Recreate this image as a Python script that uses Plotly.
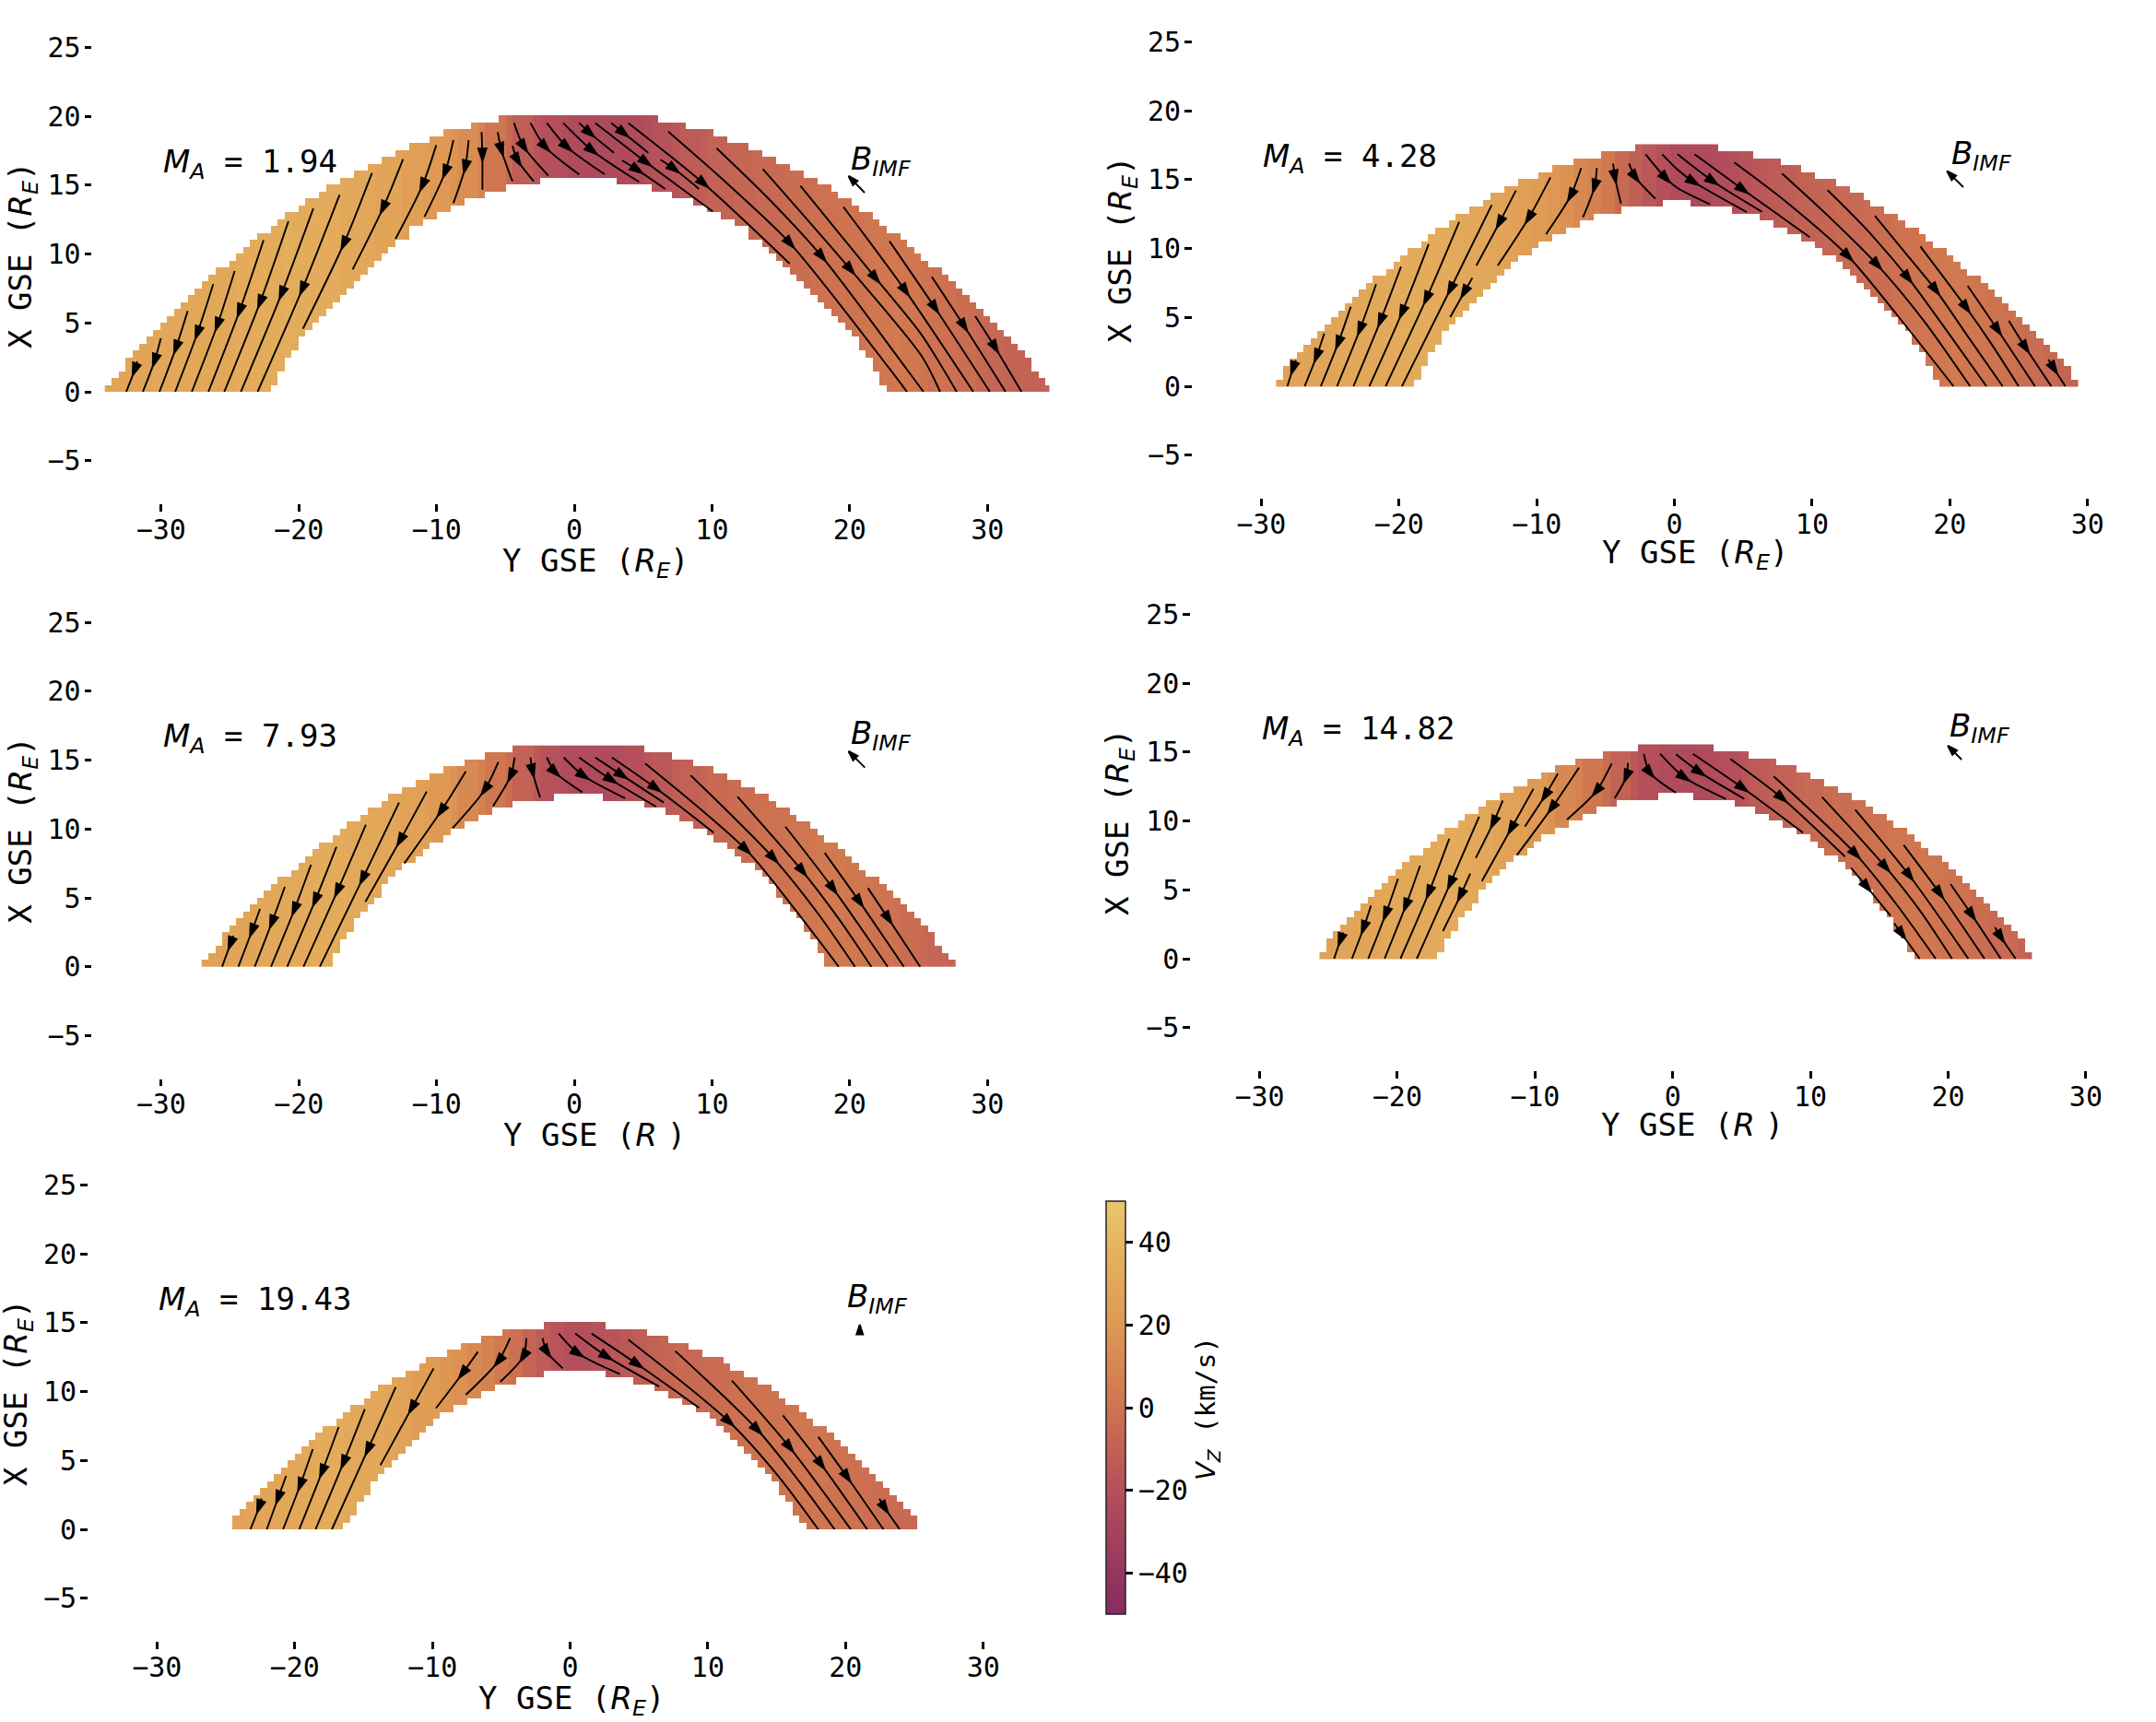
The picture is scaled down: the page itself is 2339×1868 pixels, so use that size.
import numpy as np
import plotly.graph_objects as go

W, H = 2339, 1868
S = 14.94  # pixels per R_E on the tick scale, same on both axes
MONO = "DejaVu Sans Mono"

MACH = ["1.94", "4.28", "7.93", "14.82", "19.43"]

# half width of the sheath per 0.5 R_E row, from X=0 upwards
OUTER_1 = [34.25,33.75,33.25,32.75,32.75,32.25,31.75,31.25,30.75,30.25,29.75,29.25,28.75,28.25,27.75,27.25,26.75,26.25,25.25,24.75,
           24.25,23.75,23.25,22.25,21.75,21.25,20.25,19.75,18.75,18.25,17.25,16.25,15.25,14.25,13.25,12.25,10.75,9.75,7.75,5.75]
INNER_1 = [22.25,21.75,21.75,21.25,21.25,20.75,20.25,20.25,19.75,19.25,18.75,18.25,17.75,17.25,16.75,16.25,15.75,15.25,14.75,14.25,
           13.75,13.25,12.25,12.25,11.25,10.25,9.25,8.25,6.75,5.25,2.75]
OUTER_2 = [29,28.5,28.5,28,27.5,27,26.5,26,25.5,25,24.5,24,23.5,23,22.5,22,21,20.5,20,19.5,18.5,18,17.5,16.5,16,15,14,13.5,12.5,11.5,10,9,7.5,5.5,3]
INNER_2 = [19,18.5,18.5,18,18,17.5,17,17,16.5,16,15.5,15,14.5,14,13.5,13,12.5,12,11.5,10.5,10,9,8,7,6,4,1]
OUTER_3 = [27.25,26.75,26.25,25.75,25.75,25.25,24.75,24.25,23.75,23.25,22.75,22.25,21.75,20.75,20.25,19.75,19.25,18.75,17.75,17.25,
           16.75,15.75,15.25,14.25,13.75,12.75,11.75,10.75,9.75,8.25,6.75,4.75]
INNER_3 = [17.75,17.75,17.25,17.25,16.75,16.25,16.25,15.75,15.25,14.75,14.25,14.25,13.75,13.25,12.75,11.75,11.25,10.75,9.75,9.25,8.25,7.25,6.25,4.75,1.75]
OUTER_4 = [25.75,25.25,25.25,24.75,24.25,23.75,23.25,22.75,22.25,21.75,21.25,20.75,20.25,19.75,19.25,18.25,17.75,17.25,16.75,15.75,
           15.25,14.25,13.75,12.75,11.75,10.75,9.75,8.75,7.25,5.25,2.75]
INNER_4 = [17.25,16.75,16.75,16.25,15.75,15.75,15.25,14.75,14.25,14.25,13.75,13.25,12.75,12.25,11.75,10.75,10.25,9.75,8.75,7.75,6.75,5.75,4.25,1.25]
OUTER_5 = [24.75,24.75,24.25,23.75,23.25,22.75,22.25,21.75,21.25,20.75,20.25,19.75,19.25,18.75,18.25,17.25,16.75,16.25,15.25,14.75,
           14.25,13.25,12.25,11.25,10.75,9.25,8.25,6.75,5.25,2.25]
INNER_5 = [16.75,16.25,15.75,15.75,15.25,14.75,14.75,14.25,13.75,13.25,12.75,12.25,11.75,11.25,10.75,10.25,9.75,8.75,7.75,6.75,5.75,4.25,2.25]

# Vz (km/s) per 1 R_E column of Y, from -N to +N
VZ_1 = [28,28,29,29,29,30,30,30,31,31,32,33,34,34,35,34,33,33,32,31,30,29,28,25,24,21,18,14,8,1,-6,-12,-17,-20,-22,
        -24,-25,-25,-25,-24,-21,-19,-17,-14,-12,-9,-8,-7,-6,-5,-4,-3,-2,-1,0,0,1,2,3,2,0,-1,-2,-3,-5,-7,-8,-9,-10,-10,-10]
VZ_2 = [27,27,28,28,29,30,30,31,32,33,34,33,33,32,31,30,28,27,25,23,20,16,12,8,3,-5,-11,-16,-20,
        -24,-25,-25,-23,-21,-18,-16,-14,-12,-10,-9,-7,-6,-5,-4,-3,-1,0,1,2,3,2,1,0,-1,-3,-4,-6,-8,-9]
VZ_3 = [27,27,28,29,30,31,32,32,33,34,33,32,31,30,29,27,25,21,17,12,7,2,-3,-9,-15,-19,-22,
        -24,-24,-24,-22,-20,-17,-15,-12,-10,-8,-6,-4,-3,-2,-1,0,1,2,3,3,2,1,0,-2,-4,-6,-7,-8]
VZ_4 = [26,27,28,29,29,30,31,31,32,33,33,32,30,29,27,24,21,17,12,7,2,-3,-9,-15,-20,-23,
        -24,-25,-24,-22,-20,-17,-14,-11,-9,-7,-5,-4,-3,-2,-1,0,1,2,2,1,0,-1,-3,-5,-6,-8,-9]
VZ_5 = [26,27,28,29,30,31,32,33,33,32,31,30,29,27,24,22,19,16,12,8,3,-2,-8,-13,-17,
        -20,-20,-19,-17,-15,-12,-10,-8,-6,-5,-4,-3,-2,-1,0,0,1,1,1,0,-1,-2,-3,-4,-5,-6]

# streamlines: Y points, X points, index of the point carrying the arrow head
STREAMS_1 = [
    ([-31.9,-32.1,-32.7],[2.2,1.56,0],1), ([-30.2,-30.65,-31.5],[3.87,2.24,0],1), ([-28.26,-29.1,-30.3],[5.84,3.19,0],1),
    ([-26.41,-27.56,-29.16],[7.78,4.23,0],1), ([-24.86,-26.11,-27.96],[8.73,4.83,0],1), ([-22.77,-24.51,-26.76],[10.97,5.84,0],1),
    ([-20.97,-23.02,-25.61],[12.33,6.47,0],1), ([-19.17,-21.47,-24.41],[13.26,7.09,0],1), ([-17.27,-19.97,-23.2],[14.24,7.42,0],1),
    ([-14.93,-16.97,-19.92],[15.83,10.7,4.56],1), ([-12.68,-14.13,-16.33],[16.83,13.29,8.84],1), ([-10.28,-11.28,-13.23],[17.84,14.92,11.05],1),
    ([-9.04,-9.64,-11.13],[18.2,15.88,12.66],1), ([-7.94,-8.19,-9.04],[18.2,16.23,13.64],1), ([-7.0,-6.94,-6.94],[18.78,17.1,14.6],1),
    ([-5.83,-5.57,-4.77],[18.78,17.49,15.22],1), ([-4.77,-4.39,-3.23],[17.78,16.73,15.22],1), ([-4.66,-3.94,-2.17],[19.44,17.71,15.62],1),
    ([-3.46,-2.39,0.06],[19.44,17.71,15.71],1), ([-2.28,-0.83,1.9],[19.44,17.71,15.73],1), ([-1.1,1.01,4.39],[19.44,17.44,15.18],1),
    ([0.06,0.83,2.57],[19.44,18.71,17.29],1), ([1.23,4.9,9.72],[19.44,16.6,13.04],1), ([2.39,3.28,5.06],[19.44,18.71,17.29],1),
    ([3.17,4.28,6.28],[16.73,16.04,14.67],1), ([5.94,6.94,8.72],[16.78,16.11,14.67],1), ([3.61,9.06,15.28],[19.44,15.07,9.27],1),
    ([6.5,10.83,15.32,22.5,23.76],[18.82,15.0,10.73,1.67,0],2), ([9.99,13.72,17.61,23.72,24.96],[17.62,14,9.78,1.67,0],2),
    ([13.34,19.68,24.84,26.16],[16.11,8.84,2.56,0],1), ([16.06,21.5,24.83,27.36],[14.89,8.22,4.11,0],1),
    ([19.17,23.66,28.56],[13.37,7.29,0],1), ([22.5,25.8,29.76],[10.89,6.06,0],1), ([25.56,27.9,30.9],[8.32,4.75,0],1), ([28.7,30.15,32.05],[5.46,3.19,0],1),
]
STREAMS_2 = [
    ([-27.57,-27.79,-28.19],[1.89,1.27,0],1), ([-25.52,-26.08,-26.94],[3.82,2.16,0],1), ([-23.6,-24.52,-25.77],[5.76,3.11,0],1),
    ([-21.77,-22.94,-24.6],[7.38,4.11,0],1), ([-19.97,-21.46,-23.41],[8.64,4.73,0],1), ([-17.97,-19.9,-22.26],[10.27,5.33,0],1),
    ([-15.76,-18.14,-21.08],[11.89,6.33,0],1), ([-13.41,-16.41,-19.9],[13.11,7,0],1), ([-14.81,-15.41,-16.41],[7.84,6.78,5],1),
    ([-11.66,-12.86,-14.52],[14.16,11.82,8.73],1), ([-9.16,-10.74,-12.97],[15.11,12.16,8.73],1), ([-6.94,-7.7,-9.48],[15.78,13.78,11],1),
    ([-5.81,-5.97,-6.81],[15.78,14.44,12.22],1), ([-4.63,-4.5,-4.06],[16.11,15.11,13.22],1), ([-3.48,-3.01,-1.57],[16.11,15.11,13.56],1),
    ([-2.28,-0.81,0.03,2.37],[16.78,15.04,14.33,13.16],1), ([-1.08,0.03,1.19,5.03],[16.78,15.67,14.78,12.6],2),
    ([0.03,2.59,6.14],[16.78,14.82,12.62],1), ([1.26,4.77,9.59],[16.78,14.22,10.78],1),
    ([4.14,8.03,12.37,16.03,19.99],[16.18,13.22,9.4,5,0],2), ([7.59,11.14,14.48,17.81,21.19],[15.38,12.11,8.78,4.78,0],2),
    ([10.88,13.81,16.7,19.59,22.37],[14.18,11.22,7.84,3.89,0],2), ([14.3,16.48,18.7,21.14,23.54],[12.33,9.67,6.96,3.44,0],2),
    ([17.59,20.92,22.7,24.7],[10.11,5.67,3.11,0],1), ([21.01,23.19,25.88],[7.27,4.07,0],1), ([23.99,25.21,27.06],[4.73,2.78,0],1), ([26.86,27.26,28.08],[1.93,1.27,0],1),
]
STREAMS_3 = [
    ([-24.94,-25.17,-25.77],[2.24,1.64,0],1), ([-23.03,-23.61,-24.59],[4.18,2.58,0],1), ([-21.23,-22.17,-23.41],[5.78,3.2,0],1),
    ([-19.34,-20.54,-22.23],[7.38,4.13,0],1), ([-17.5,-19.03,-21.06],[8.67,4.8,0],1), ([-15.37,-17.43,-19.88],[10.27,5.47,0],1),
    ([-12.97,-15.61,-18.7],[11.87,6.36,0],1), ([-10.97,-12.9,-15.41],[12.67,9.13,4.69],1), ([-8.14,-9.94,-12.59],[14.13,11.24,7.47],1),
    ([-5.79,-6.77,-9.1],[14.8,12.8,10.02],1), ([-4.61,-4.9,-6.17],[15.13,13.8,11.62],1), ([-3.46,-3.32,-2.77],[15.13,14.13,12.24],1),
    ([-2.28,-1.68,0.28],[15.13,14.07,12.62],1), ([-1.06,0.39,3.39],[15.13,13.8,12.18],1), ([0.06,2.39,5.61],[15.13,13.51,11.58],1),
    ([1.23,3.17,6.17],[15.13,13.84,11.87],1), ([2.43,5.61,9.79],[15.13,12.91,9.69],1),
    ([4.83,12.12,15.5,18.83],[14.69,8.47,4.36,0],1), ([8.12,14.12,17.28,20.01],[13.84,7.84,3.91,0],1), ([11.5,16.21,18.83,21.19],[12.31,6.91,3.47,0],1),
    ([14.97,18.43,22.37],[10.13,5.64,0],1), ([17.81,20.34,23.54],[8.24,4.69,0],1), ([20.94,22.43,24.72],[5.69,3.47,0],1),
]
STREAMS_4 = [
    ([-24.02,-24.24,-24.69],[1.89,1.33,0],1), ([-22.02,-22.56,-23.4],[3.84,2.22,0],1), ([-20.07,-20.96,-22.22],[5.78,3.22,0],1),
    ([-18.47,-19.51,-21.04],[6.73,3.82,0],1), ([-16.36,-17.84,-19.89],[8.67,4.78,0],1), ([-14.2,-16.29,-18.71],[10.27,5.44,0],1),
    ([-14.84,-15.56,-16.82],[6.16,4.56,2.0],1), ([-12.49,-13.18,-14.44],[11.44,9.82,7.29],1), ([-10.27,-11.89,-14],[12.29,9.4,5.62],1),
    ([-8.51,-9.44,-10.89],[13.38,11.78,9.56],1), ([-6.98,-8.96,-11.47],[13.82,10.89,7.49],1), ([-4.62,-5.73,-7.84],[14.11,12.11,10.07],1),
    ([-3.44,-3.56,-4.4],[14.16,13.16,11.6],1), ([-2.29,-1.84,0.04],[14.82,13.44,12.0],1), ([-1.11,0.64,3.64],[14.82,13.11,11.56],1),
    ([0.04,1.75,4.98],[14.78,13.49,11.56],1), ([1.26,4.89,9.22],[14.82,12.33,9.11],1), ([3.98,7.71,12.26],[14.44,11.62,7.38],1),
    ([7.11,13.04,15.93,18.82],[13.18,7.56,4.0,0],1), ([10.6,15.2,17.71,20],[11.69,6.62,3.44,0],1), ([13,16.93,21.18],[10.78,6,0],1),
    ([16.5,19.11,22.35],[8.22,4.73,0],1), ([19.89,21.44,23.53],[5.4,3.16,0],1), ([23.11,23.53,24.6],[2.27,1.56,0],1),
    ([12.71,13.86,15.55],[6.56,5.18,3.11],1), ([15.82,16.38,17.66],[2.56,1.78,0],1),
]
STREAMS_5 = [
    ([-22.39,-22.57,-23.19],[2.24,1.6,0],1), ([-20.61,-21.19,-22.01],[3.87,2.27,0],1), ([-18.68,-19.59,-20.83],[5.8,3.2,0],1),
    ([-16.81,-18.01,-19.66],[7.4,4.16,0],1), ([-14.92,-16.46,-18.48],[8.69,4.82,0],1), ([-12.68,-14.7,-17.3],[10.29,5.76,0],1),
    ([-9.94,-11.52,-13.79],[11.64,8.78,4.64],1), ([-6.74,-7.86,-9.77],[12.84,11.27,8.76],1), ([-4.41,-5.26,-7.61],[13.82,12.16,9.73],1),
    ([-3.23,-3.46,-5.12],[13.82,12.49,10.67],1), ([-2.06,-1.74,-0.59],[13.82,12.82,11.64],1), ([-0.9,0.52,3.54],[14.16,12.71,11.22],1),
    ([0.3,2.59,6.37],[14.16,12.49,10.33],1), ([1.48,4.81,9.26],[14.16,11.93,8.78],1), ([4.14,11.43,14.92,17.88],[13.71,7.78,3.93,0],1),
    ([7.54,13.48,16.48,19.06],[12.89,7.2,3.49,0],1), ([11.63,15.81,20.23],[10.76,5.93,0],1), ([15.32,18.08,21.42],[8.24,4.71,0],1),
    ([17.88,19.97,22.59],[6.69,3.78,0],1), ([22.3,22.7,23.77],[2.22,1.53,0],1),
]

# IMF direction arrow: base then tip
IMF_Y = [[20.7,19.54],[20.7,19.52],[20.72,19.54],[20.7,19.7],[20.88,20.88]]
IMF_X = [[14.4,15.6],[14.4,15.56],[14.4,15.58],[14.4,15.4],[14.55,14.8]]

COLORSCALE = [[0,"#862B64"],[0.1,"#96365F"],[0.3,"#B5505A"],[0.5,"#CE7350"],[0.7,"#DF9853"],[0.9,"#E5B55F"],[1,"#E9C76E"]]

OUTERS = [OUTER_1, OUTER_2, OUTER_3, OUTER_4, OUTER_5]
INNERS = [INNER_1, INNER_2, INNER_3, INNER_4, INNER_5]
VZS = [VZ_1, VZ_2, VZ_3, VZ_4, VZ_5]
STREAMS = [STREAMS_1, STREAMS_2, STREAMS_3, STREAMS_4, STREAMS_5]
# cell grid edges of each panel
GRID = [(-34.25,34.25),(-29,29),(-27.25,27.25),(-25.75,25.75),(-24.5,25)]
# pixel position of the ticks Y=0 / X=0 of each panel
ORIGIN_PX = [(623,425),(1816.5,419),(623,1048.7),(1814.7,1040),(618.5,1659)]
# the marks were read at 15 px per R_E around the centre of each arc
MARK_K = 15 / S
MARK_SHIFT = [0.3, 0.2, 0.3, 0.2, 0.07]
XLABEL_LEFT_PX = [542.5, 1735.5, 543.5, 1734.6, 516.5]
XLABEL_DY_PX = [185, 182, 182, 180, 185]
YLABEL_PX = [24, 1217, 25, 1214, 19]
XLABEL_R = ["<sub>E</sub>","<sub>E</sub>"," "," ","<sub>E</sub>"]

def sans(txt):
    return f'<span style="font-family:DejaVu Sans"><i>{txt}</i></span>'

def sheath(i):
    left, right = GRID[i]
    c = (left + right) / 2
    vz = VZS[i]
    n = len(vz) // 2
    ys = np.arange(left + 0.25, right, 0.5)
    xs = [0.25 + 0.5 * r for r in range(len(OUTERS[i]))]
    z = []
    for r in range(len(xs)):
        w_in = INNERS[i][r] if r < len(INNERS[i]) else 0
        row = []
        for y in ys:
            if w_in <= abs(y - c) < OUTERS[i][r]:
                row.append(vz[int(round(y)) + n])
            else:
                row.append(None)
        z.append(row)
    return ys, xs, z

def add_line(fig, ys, xs, n, width=1.9):
    fig.add_trace(go.Scatter(
        x=ys, y=xs, mode="lines", xaxis=f"x{n}", yaxis=f"y{n}",
        line=dict(color="black", width=width, shape="spline", smoothing=0.8),
        hoverinfo="skip", showlegend=False,
    ))

def add_heads(fig, hy, hx, ang, n, size):
    fig.add_trace(go.Scatter(
        x=hy, y=hx, mode="markers", xaxis=f"x{n}", yaxis=f"y{n}",
        marker=dict(symbol="arrow", size=size, angle=ang, color="black", line=dict(color="black", width=2)),
        hoverinfo="skip", showlegend=False,
    ))

fig = go.Figure()
layout = {}
annotations = []

for i in range(5):
    n = i + 1
    px0, py0 = ORIGIN_PX[i]
    ymin, ymax, xmin, xmax = -35, 34.5, -8.1, 27.5
    ys, xs, z = sheath(i)
    shift = MARK_SHIFT[i]
    fig.add_trace(go.Heatmap(x=[v * MARK_K + shift for v in ys], y=[v * MARK_K for v in xs], z=z,
                             coloraxis="coloraxis", xaxis=f"x{n}", yaxis=f"y{n}", hoverinfo="skip"))
    hy, hx, ang = [], [], []
    for sy, sx, k in STREAMS[i]:
        py = [v * MARK_K + shift for v in sy]
        px = [v * MARK_K for v in sx]
        add_line(fig, py, px, n)
        dy, dx = py[k + 1] - py[k - 1], px[k + 1] - px[k - 1]
        norm = np.hypot(dy, dx)
        # the symbol's tip sits on the point, so push it forward to centre the head
        hy.append(py[k] + 0.4 * dy / norm)
        hx.append(px[k] + 0.4 * dx / norm)
        ang.append(np.degrees(np.arctan2(dy, dx)))
    add_heads(fig, hy, hx, ang, n, 14)

    iy = [v * MARK_K + shift for v in IMF_Y[i]]
    ix = [v * MARK_K for v in IMF_X[i]]
    add_line(fig, iy, ix, n)
    add_heads(fig, [iy[1]], [ix[1]], [np.degrees(np.arctan2(iy[1] - iy[0], ix[1] - ix[0]))], n, 11)

    layout[f"xaxis{n}"] = dict(
        domain=[(px0 + ymin * S) / W, (px0 + ymax * S) / W], range=[ymin, ymax], anchor=f"y{n}",
        showgrid=False, zeroline=False, showline=False, ticks="outside", ticklen=7.5, tickwidth=2.5,
        tickcolor="black", tickvals=[-30,-20,-10,0,10,20,30], ticklabelstandoff=-6,
        tickfont=dict(family=MONO, size=30, color="black"))
    layout[f"yaxis{n}"] = dict(
        domain=[1 - (py0 - xmin * S) / H, 1 - (py0 - xmax * S) / H], range=[xmin, xmax], anchor=f"x{n}",
        showgrid=False, zeroline=False, showline=False, ticks="outside", ticklen=7.5, tickwidth=2.5,
        tickcolor="black", tickvals=[-5,0,5,10,15,20,25], ticklabelstandoff=-2,
        tickfont=dict(family=MONO, size=30, color="black"))

    font = dict(family=MONO, size=34, color="black")
    annotations.append(dict(x=-30, y=16.6, xref=f"x{n}", yref=f"y{n}", xanchor="left", yanchor="middle", showarrow=False,
                            text=sans("M<sub>A</sub>") + f" = {MACH[i]}", font=font))
    annotations.append(dict(x=19.95, y=16.8, xref=f"x{n}", yref=f"y{n}", xanchor="left", yanchor="middle", showarrow=False,
                            text=sans("B<sub>IMF</sub>"), font=font))
    annotations.append(dict(x=XLABEL_LEFT_PX[i] / W, y=1 - (py0 + XLABEL_DY_PX[i]) / H, xref="paper", yref="paper",
                            xanchor="left", yanchor="middle", showarrow=False,
                            text="Y GSE (" + sans("R" + XLABEL_R[i]) + ")", font=font))
    annotations.append(dict(x=YLABEL_PX[i] / W, y=1 - (py0 - 148) / H, xref="paper", yref="paper",
                            xanchor="center", yanchor="middle", showarrow=False, textangle=-90,
                            text="X GSE (" + sans("R<sub>E</sub>") + ")", font=font))

annotations.append(dict(x=1310 / W, y=1 - 1528 / H, xref="paper", yref="paper", xanchor="center", yanchor="middle",
                        showarrow=False, textangle=-90, text=sans("V<sub>Z</sub>") + " (km/s)",
                        font=dict(family=MONO, size=29, color="black")))

fig.update_layout(
    width=W, height=H, margin=dict(l=0, r=0, t=0, b=0),
    paper_bgcolor="white", plot_bgcolor="white", showlegend=False,
    annotations=annotations,
    coloraxis=dict(
        cmin=-50, cmax=50, colorscale=COLORSCALE,
        colorbar=dict(x=1200 / W, xanchor="left", xpad=0, ypad=0, y=1 - 1527 / H, yanchor="middle",
                      len=448, lenmode="pixels", thickness=21, thicknessmode="pixels",
                      outlinewidth=1.5, outlinecolor="#222222", ticks="outside", ticklen=7.5, tickwidth=2.5,
                      tickcolor="black", tickvals=[-40,-20,0,20,40],
                      tickfont=dict(family=MONO, size=30, color="black")),
    ),
    **layout,
)

fig.write_html("out.html", config=dict(displayModeBar=False), post_script="document.body.style.margin='0';")
